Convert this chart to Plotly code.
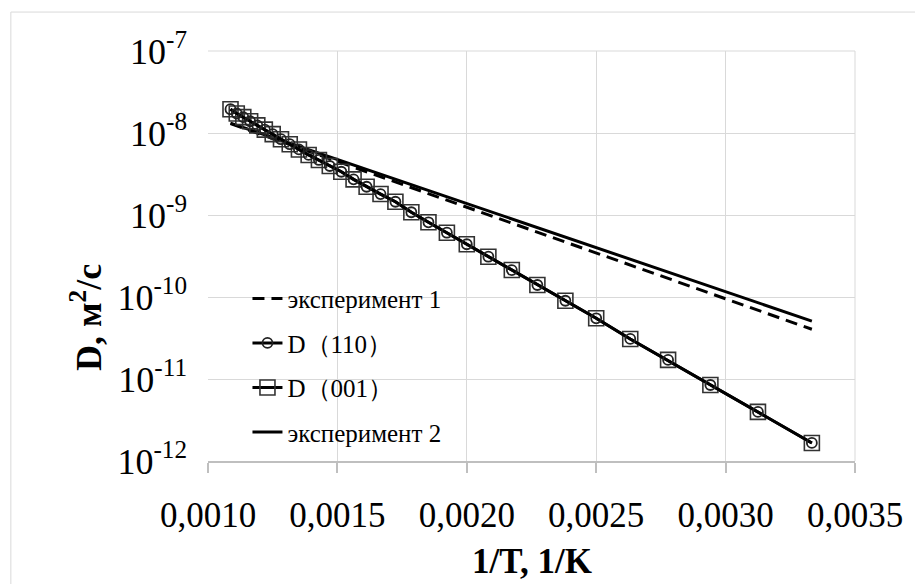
import plotly.graph_objects as go

# ---- data ----
T_points = [300, 320, 340, 360, 380, 400, 420, 440, 460, 480, 500, 520, 540, 560, 580, 600,
            620, 640, 660, 680, 700, 720, 740, 760, 780, 800, 820, 840, 860, 880, 900, 920]
D_110 = [1.66e-12, 3.97e-12, 8.45e-12, 1.71e-11, 3.08e-11, 5.5e-11, 9.0e-11, 1.40e-10,
         2.13e-10, 3.10e-10, 4.40e-10, 6.08e-10, 8.15e-10, 1.08e-9, 1.45e-9, 1.80e-9,
         2.21e-9, 2.72e-9, 3.37e-9, 3.96e-9, 4.69e-9, 5.40e-9, 6.3e-9, 7.3e-9,
         8.4e-9, 9.7e-9, 1.10e-8, 1.24e-8, 1.39e-8, 1.56e-8, 1.73e-8, 1.95e-8]
D_001 = [1.66e-12, 3.97e-12, 8.45e-12, 1.71e-11, 3.08e-11, 5.5e-11, 9.0e-11, 1.40e-10,
         2.13e-10, 3.10e-10, 4.40e-10, 6.08e-10, 8.15e-10, 1.08e-9, 1.45e-9, 1.80e-9,
         2.21e-9, 2.72e-9, 3.37e-9, 3.96e-9, 4.69e-9, 5.40e-9, 6.3e-9, 7.3e-9,
         8.4e-9, 9.7e-9, 1.10e-8, 1.24e-8, 1.39e-8, 1.56e-8, 1.73e-8, 1.95e-8]
T_exp = [920, 300]
exp_1 = [1.30e-8, 4.04e-11]
exp_2 = [1.32e-8, 5.09e-11]

x_ticks = [0.0010, 0.0015, 0.0020, 0.0025, 0.0030, 0.0035]
y_ticks = [1e-12, 1e-11, 1e-10, 1e-9, 1e-8, 1e-7]
y_ticktext = ["10<sup>-12</sup>", "10<sup>-11</sup>", "10<sup>-10</sup>",
              "10<sup>-9</sup>", "10<sup>-8</sup>", "10<sup>-7</sup>"]

names = ["эксперимент 1", "D（110）", "D（001）", "эксперимент 2"]

inv_T = [1.0 / t for t in T_points]
inv_T_exp = [1.0 / t for t in T_exp]

FONT = "Liberation Serif, Times New Roman, serif"

fig = go.Figure()
fig.add_trace(go.Scatter(
    x=inv_T_exp, y=exp_1, mode="lines", name=names[0], legendrank=1, legendgroup="a",
    line=dict(color="black", width=3, dash="12px,7px")))
fig.add_trace(go.Scatter(
    x=inv_T_exp, y=exp_2, mode="lines", name=names[3], legendrank=4, legendgroup="d",
    line=dict(color="black", width=3)))
fig.add_trace(go.Scatter(
    x=inv_T, y=D_001, mode="lines+markers", name=names[2], legendrank=3, legendgroup="c",
    line=dict(color="black", width=3),
    marker=dict(symbol="square-open", size=15, color="#333333", line=dict(width=1.6))))
fig.add_trace(go.Scatter(
    x=inv_T, y=D_110, mode="lines+markers", name=names[1], legendrank=2, legendgroup="b",
    line=dict(color="black", width=3),
    marker=dict(symbol="circle-open", size=10, color="#222222", line=dict(width=1.8))))

fig.update_layout(
    width=915, height=584,
    margin=dict(l=208, r=54, t=51, b=123),
    paper_bgcolor="white", plot_bgcolor="white",
    separators=", ",
    font=dict(family=FONT, color="black", size=35),
    showlegend=True,
    legend=dict(
        x=0.061, y=0.452, xanchor="left", yanchor="top",
        bgcolor="rgba(0,0,0,0)", font=dict(family=FONT, size=25, color="black"),
        itemwidth=30, tracegroupgap=9, traceorder="grouped"),
    xaxis=dict(
        range=[0.001, 0.0035], tickvals=x_ticks, tickformat=".4f",
        showgrid=True, gridcolor="#d9d9d9", gridwidth=1,
        showline=True, linecolor="#bfbfbf", linewidth=1.5,
        ticks="outside", ticklen=10, tickcolor="#bfbfbf", tickwidth=1.5,
        ticklabelstandoff=12, zeroline=False,
        tickfont=dict(family=FONT, size=35, color="black")),
    yaxis=dict(
        type="log", range=[-12, -7], tickvals=y_ticks, ticktext=y_ticktext,
        showgrid=True, gridcolor="#d9d9d9", gridwidth=1,
        showline=False, ticks="", ticklabelstandoff=20, zeroline=False,
        tickfont=dict(family=FONT, size=36, color="black")),
    annotations=[
        dict(text="<b>1/T, 1/K</b>", xref="paper", yref="paper", x=0.5, y=-0.245,
             xanchor="center", yanchor="middle", showarrow=False,
             font=dict(family=FONT, size=35, color="black")),
        dict(text="<b>D, м<sup>2</sup>/с</b>", xref="paper", yref="paper", x=-0.187, y=0.349,
             xanchor="center", yanchor="middle", textangle=-90, showarrow=False,
             font=dict(family=FONT, size=36, color="black")),
    ],
    shapes=[
        dict(type="rect", xref="paper", yref="paper", x0=-0.3047, y0=-2, x1=3, y1=1.095,
             line=dict(color="#d9d9d9", width=1), fillcolor="rgba(0,0,0,0)", layer="below"),
        dict(type="line", xref="paper", yref="paper", x0=0, x1=1, y0=1, y1=1,
             line=dict(color="#d9d9d9", width=1), layer="below"),
        dict(type="line", xref="paper", yref="paper", x0=1, x1=1, y0=0, y1=1,
             line=dict(color="#d9d9d9", width=1), layer="below"),
    ],
)

fig.write_html("out.html")
